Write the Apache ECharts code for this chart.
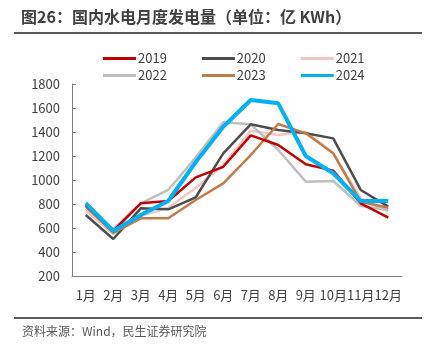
<!DOCTYPE html>
<html>
<head>
<meta charset="utf-8">
<script src="https://cdn.jsdelivr.net/npm/echarts@6/dist/echarts.min.js"></script>
<style>
html,body{margin:0;padding:0;background:#fff;}
#c{width:432px;height:357px;}
</style>
</head>
<body>
<div id="c"></div>
<script>
const months = ['1月','2月','3月','4月','5月','6月','7月','8月','9月','10月','11月','12月'];
const yTicks = [200, 400, 600, 800, 1000, 1200, 1400, 1600, 1800];
const s2019 = [790, 575, 806, 825, 1022, 1110, 1372, 1292, 1131, 1078, 806, 686];
const s2020 = [708, 508, 764, 756, 856, 1222, 1464, 1417, 1389, 1347, 917, 778];
const s2021 = [745, 550, 700, 770, 933, 1125, 1411, 1375, 1403, 1222, 847, 736];
const s2022 = [765, 590, 806, 917, 1189, 1481, 1464, 1250, 986, 992, 783, 750];
const s2023 = [780, 560, 681, 681, 833, 972, 1208, 1467, 1389, 1222, 819, 769];
const s2024 = [806, 575, 708, 825, 1150, 1444, 1667, 1639, 1200, 1056, 825, 825];

const names = ['2019','2020','2021','2022','2023','2024'];
const datas = [s2019, s2020, s2021, s2022, s2023, s2024];
const colors = ['#C00000','#4D4D4D','#F2C6C2','#BFBFBF','#C27A48','#00B0F0'];
const widths = [2.5, 2.5, 2.5, 2.5, 2.5, 4];
const zorder = [3, 2, 1, 1, 2, 5];

const chart = echarts.init(document.getElementById('c'), null, {renderer:'canvas'});
const font = '"Microsoft YaHei","Noto Sans CJK SC","Noto Sans",sans-serif';
chart.setOption({
  animation: false,
  textStyle: {fontFamily: font},
  graphic: [
    {type:'text', left: 21, top: 9, style:{text:'图26：国内水电月度发电量（单位：亿 KWh）', font:'bold 16px ' + font, fill:'#404040'}},
    {type:'rect', shape:{x:14, y:32, width:408, height:2}, style:{fill:'#595959'}},
    {type:'rect', shape:{x:14, y:317, width:408, height:2}, style:{fill:'#595959'}},
    {type:'text', left: 22, top: 325, style:{text:'资料来源：Wind，民生证券研究院', font:'12px ' + font, fill:'#595959'}}
  ],
  legend: [
    {top: 47, left: 98, itemWidth: 33, itemHeight: 3, itemGap: 35, data: ['2019','2020','2021'], textStyle:{fontSize:13, color:'#404040', padding:[0,0,0,-3]}, icon:'rect'},
    {top: 64, left: 98, itemWidth: 33, itemHeight: 3, itemGap: 35, data: ['2022','2023','2024'], textStyle:{fontSize:13, color:'#404040', padding:[0,0,0,-3]}, icon:'rect'}
  ],
  grid: {left: 72, right: 30, top: 84, bottom: 81, containLabel: false},
  xAxis: {
    type: 'category', data: months, boundaryGap: true,
    axisLine: {lineStyle:{color:'#7F7F7F', width:1}},
    axisTick: {inside: true, length: 4, lineStyle:{color:'#7F7F7F'}},
    axisLabel: {color:'#404040', fontSize: 13, margin: 13, interval: 0},
    splitLine: {show:false}
  },
  yAxis: {
    type: 'value', min: yTicks[0], max: yTicks[yTicks.length-1], interval: 200,
    axisLine: {show:true, lineStyle:{color:'#7F7F7F', width:1}},
    axisTick: {show:true, inside: true, length: 4, lineStyle:{color:'#7F7F7F'}},
    axisLabel: {color:'#404040', fontSize: 13, margin: 12, formatter: (v) => String(v)},
    splitLine: {show:false}
  },
  series: names.map((n, i) => ({
    name: n, type: 'line', data: datas[i], symbol: 'none', z: zorder[i],
    lineStyle: {color: colors[i], width: widths[i]}, itemStyle: {color: colors[i]}
  }))
});
</script>
</body>
</html>
